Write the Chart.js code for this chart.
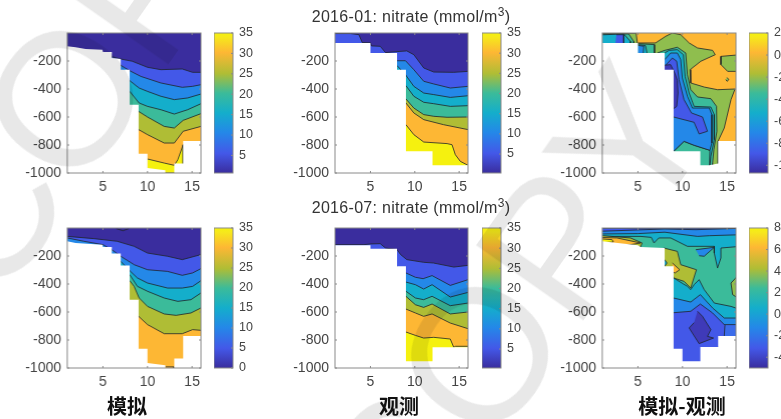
<!DOCTYPE html>
<html><head><meta charset="utf-8">
<script src="https://cdn.jsdelivr.net/npm/chart.js@4"></script>
<style>
html,body{margin:0;padding:0;background:#fff;width:781px;height:419px;overflow:hidden}
#fig{position:relative;width:781px;height:419px;overflow:hidden;background:#fff;filter:blur(0.45px)}
#fig canvas{position:absolute}
.t{position:absolute;white-space:nowrap;font-family:"Liberation Sans",Arial,sans-serif;font-size:16px;letter-spacing:.3px;color:#333;transform:translateX(-50%)}
.t sup{font-size:12px;line-height:0;vertical-align:6px}
.c{position:absolute;white-space:nowrap;font-family:"Noto Sans CJK SC",sans-serif;font-weight:700;font-size:20px;color:#111;transform:translateX(-50%);line-height:24px}
.w{position:absolute;white-space:nowrap;font-family:"Liberation Sans",Arial,sans-serif;font-size:190px;letter-spacing:-2px;color:rgba(0,0,0,.09);mix-blend-mode:multiply;transform-origin:0 100%;transform:rotate(-55deg);pointer-events:none;line-height:190px}
</style></head><body><div id="fig"></div>
<script>
// ---------- text ----------
const titleLabels = ['2016-01: nitrate (mmol/m', '2016-07: nitrate (mmol/m'];
const columnLabels = ['模拟', '观测', '模拟-观测'];
const watermarkText = 'COPY';
const xTicks = [5, 10, 15];
const yTicks = [-1000, -800, -600, -400, -200];
const concTicks = [5, 10, 15, 20, 25, 30, 35];
const concTicksZero = [0, 5, 10, 15, 20, 25, 30, 35];
const janDiffTicks = [-10, -8, -6, -4, -2, 0, 2];
const julDiffTicks = [-4, -2, 0, 2, 4, 6, 8];

// ---------- band colours ----------
const DARK='#3A2D9E', BLUE='#4358E8', AZURE='#2488E8', TEAL='#14AECB', SEA='#3BBB9A', OLIVE='#AFBD35', ORANGE='#FDB734', YELLOW='#F5F10F';
const LEAF='#8FBE4E', DEEP='#3F3AB8', MIDBLUE='#3B6CEA';
const parulaStops = [[0,DARK],[.14,BLUE],[.29,AZURE],[.43,TEAL],[.57,SEA],[.71,OLIVE],[.86,ORANGE],[.97,'#F6E81C'],[1,YELLOW]];

// ---------- 2016-01 model ----------
const janModelFloor=[[1,-95],[1.94,-102],[3.06,-114],[4.94,-119],[5,-136],[6,-136],[6,-179],[7,-186],[7,-262],[8,-262],[8,-512],[9,-512],[9,-862],[10,-862],[10,-964],[12,-981],[12,-1000],[13,-1000],[13,-933],[14,-933],[14,-771],[16,-771]];
const janModel5=[[6,-170],[7,-186],[8.3,-202],[10,-245],[11.5,-262],[13.9,-257],[15.06,-281],[16,-281]];
const janModel10=[[7,-231],[8,-269],[9.25,-310],[11.5,-357],[13.9,-388],[15.06,-381],[16,-369]];
const janModel15=[[8,-340],[9.06,-393],[10,-417],[11.5,-452],[13,-476],[14.5,-464],[16,-436]];
const janModel20=[[8,-417],[9.06,-500],[10,-524],[11.5,-548],[13,-579],[14.5,-548],[16,-505]];
const janModel25=[[9,-560],[10,-600],[11.87,-667],[13,-679],[14,-624],[16,-576]];
const janModel30=[[9,-690],[10,-726],[11.87,-786],[13,-786],[14,-702],[16,-667]];
const janModel35=[[10,-900],[11.87,-929],[13,-945],[13.4,-905],[14,-798],[14,-1000],[10,-1000]];

// ---------- 2016-01 observation ----------
const janObsFloor=[[1,-71],[5,-71],[5,-143],[8,-143],[8,-262],[9,-262],[9,-845],[12,-845],[12,-945],[16,-945]];
const janObs5=[[1,-4],[2.76,-4],[3.7,-12],[4.07,-68],[5,-70],[5.1,-92],[6.1,-95],[6.7,-140],[8,-133],[9.1,-128],[9.89,-155],[11.01,-250],[12.14,-279],[14.39,-281],[16,-274]];
const janObs10=[[8,-198],[8.95,-198],[9.89,-262],[11.01,-345],[12.14,-364],[14.01,-393],[16,-381]];
const janObs15=[[8,-233],[8.95,-298],[9.89,-381],[11.01,-429],[12.14,-440],[14.01,-460],[16,-448]];
const janObs20=[[9,-376],[9.89,-452],[11.01,-495],[12.14,-505],[14.01,-524],[16,-519]];
const janObs25=[[9,-471],[9.89,-536],[11.01,-583],[12.14,-595],[13.64,-602],[16,-600]];
const janObs30=[[9,-500],[9.89,-571],[11.01,-619],[13.25,-655],[16,-690]];
const janObs35=[[9,-655],[9.89,-726],[11.01,-779],[13.64,-790],[14.2,-798],[14.57,-869],[15.14,-917],[16,-945]];

// ---------- 2016-01 difference ----------
const janDiffFloor=[[1,-71],[5,-71],[5,-143],[8,-143],[8,-262],[9,-262],[9,-845],[12,-845],[12,-945],[13,-945],[14,-933],[14,-771],[16,-771]];
const janDiffLeaf=[[5,-71],[6.98,-71],[8.1,-24],[8.86,0],[9.8,-12],[10.74,-71],[11.68,-107],[13.37,-124],[13.67,-155],[12.05,-202],[10.85,-262],[10.92,-357],[12.43,-386],[13.93,-405],[15.89,-400],[15.44,-476],[14.68,-679],[14,-771],[14,-1000],[3,-1000],[3,-80]];
const janDiffIsland=[[16.5,-155],[14.31,-167],[14.31,-226],[15.06,-274],[16.5,-274]];
const janDiffLens=[[15,-318],[15.2,-333],[15,-345],[14.85,-333]];
const janDiffTop1=[[0.5,-2],[4.8,-2],[4.95,-80],[0.5,-80]];
const janDiffTop2=[[0.5,-7],[3.97,-7],[4.53,-60],[4.53,-80],[0.5,-80]];
const janDiffTop3=[[0.5,-14],[3.41,-7],[4.16,-60],[4.16,-80],[0.5,-80]];
const janDiffTop4=[[2.58,-12],[3.41,-12],[3.41,-80],[2.47,-80]];
const janDiffPatch1=[[5,-76],[6.86,-83],[6.86,-150],[5,-150]];
const janDiffPatch2=[[5,-83],[5.85,-90],[6.04,-150],[5,-150]];
const janDiffPatch3=[[5,-88],[5.66,-95],[5.59,-150],[5,-150]];
const janDiffSea=[[7.17,-143],[8,-124],[9.42,-102],[10.36,-143],[10.55,-298],[10.92,-405],[11.68,-457],[13.18,-469],[13.82,-524],[13.86,-702],[13.52,-833],[13.37,-933],[13.37,-1000],[7.17,-1000]];
const janDiffTeal=[[8,-143],[8.48,-124],[9.42,-119],[10.1,-155],[10.29,-310],[10.74,-429],[11.3,-524],[13.18,-529],[13.56,-583],[13.56,-762],[13.18,-881],[13,-1000],[7.5,-1000],[7.5,-143]];
const janDiffWedge=[[9,-845],[10.17,-774],[11.3,-802],[13.07,-838],[13,-1000],[9,-1000]];
const janDiffAzure=[[8,-190],[8.67,-143],[9.42,-143],[9.8,-190],[9.98,-321],[10.55,-452],[11.11,-536],[13,-536],[13.29,-583],[13.29,-786],[13.07,-838],[11.3,-802],[10.17,-774],[9,-845],[7.5,-845],[7.5,-190]];
const janDiffBlue=[[8,-238],[8.86,-179],[9.35,-202],[9.61,-333],[10.17,-476],[11,-571],[12.24,-600],[12.8,-702],[11.86,-721],[11.3,-638],[9,-600],[7.5,-600],[7.5,-238]];
const janDiffDeep=[[7.9,-231],[8.67,-226],[9.16,-290],[9.42,-340],[9.5,-429],[9.35,-524],[9,-540],[7.9,-540]];

// ---------- 2016-07 model ----------
const julModelFloor=[[1,-95],[1.94,-107],[4.94,-119],[5,-136],[6,-136],[6,-183],[7,-183],[7,-267],[8,-267],[8,-512],[9,-512],[9,-862],[10,-862],[10,-964],[12,-981],[12,-1000],[13,-1000],[13,-933],[14,-933],[14,-771],[16,-771]];
const julModel5=[[1,-60],[4,-76],[6.6,-95],[8.5,-131],[10,-179],[12.25,-202],[13.9,-226],[16,-190]];
const julModel10=[[1,-71],[2.87,-95],[5,-119],[6,-155],[7,-202],[8.5,-262],[10,-298],[12.25,-310],[13.9,-338],[15.06,-321],[16,-290]];
const julModel15=[[7,-238],[8,-305],[8.87,-357],[10,-393],[12.25,-429],[13.9,-429],[15.06,-417],[16,-376]];
const julModel20=[[8,-333],[8.87,-417],[10,-452],[11.87,-500],[13.4,-524],[14.87,-512],[16,-464]];
const julModel25=[[8,-376],[8.5,-417],[9.06,-500],[10,-560],[11.87,-614],[13.2,-624],[14.87,-607],[16,-571]];
const julModel30=[[9,-631],[10,-690],[11.87,-755],[13.9,-755],[15.06,-726],[16,-731]];
const julModelLens=[[6.5,-5],[7.25,-19],[7.9,-5]];
const julModelDeep=[[12,-992],[12.95,-992],[12.95,-1010],[12,-1010]];

// ---------- 2016-07 observation ----------
const julObsFloor=[[1,-124],[5,-124],[5,-148],[8,-148],[8,-274],[9,-274],[9,-952],[12,-952],[12,-852],[16,-852]];
const julObs5=[[1,-119],[4.26,-119],[5,-114],[6.1,-112],[6.7,-143],[8,-155],[8.4,-190],[9.1,-226],[11,-245],[12.1,-250],[14.4,-279],[16,-267]];
const julObs10=[[8,-274],[9,-321],[10.07,-352],[10.94,-362],[11.95,-340],[14,-410],[16,-369]];
const julObs15=[[9,-386],[10.07,-405],[11,-436],[11.95,-405],[14,-493],[16,-460]];
const julObs20=[[9,-452],[10.07,-500],[11,-512],[11.95,-488],[14,-555],[16,-536]];
const julObs25=[[9,-488],[10.07,-548],[11,-567],[11.95,-543],[14,-614],[16,-600]];
const julObs30=[[9,-579],[10.07,-607],[11,-631],[11.95,-614],[14,-679],[16,-719]];
const julObs35=[[9,-743],[10.07,-767],[11,-786],[12.14,-781],[14,-793],[14.39,-852],[14.6,-845],[16,-845]];

// ---------- 2016-07 difference ----------
const julDiffFloor=[[1,-95],[5,-124],[5.29,-136],[8,-143],[8,-274],[9,-274],[9,-862],[10,-862],[10,-952],[12,-952],[12,-850],[14,-850],[14,-771],[16,-771]];
const julDiffTealTop=[[0.5,-60],[5.29,-60],[6.5,-67],[6.8,-107],[7.35,-71],[8.67,-71],[10.55,-131],[13.56,-131],[13.56,-179],[13.93,-286],[14.31,-214],[14.31,-143],[16.5,-131],[16.5,0],[0.5,0]];
const julDiffAzureTop=[[0.5,-43],[5,-40],[8,-30],[11.68,-60],[13,-55],[16.5,-48],[16.5,0],[0.5,0]];
const julDiffBlueTop=[[0.5,-24],[8,-7],[11.49,-12],[16.5,-2],[16.5,-1],[0.5,-1]];
const julDiffLensA=[[11.49,-155],[13.56,-138],[12.43,-202],[11.86,-198]];
const julDiffLeft1=[[0.5,-52],[4.16,-71],[5.47,-107],[5.29,-136],[0.5,-136]];
const julDiffLeft2=[[0.5,-67],[2.65,-71],[5.29,-107],[4.16,-119],[0.5,-119]];
const julDiffLeft3=[[0.5,-76],[2.09,-83],[2.25,-100],[0.5,-107]];
const julDiffOlive=[[7.9,-143],[9.42,-167],[9.8,-262],[11.56,-298],[10.92,-429],[10.17,-381],[9,-357],[8.8,-300],[7.9,-274]];
const julDiffOrange=[[8.86,-250],[9.68,-298],[9.16,-321],[8.9,-314]];
const julDiffNick=[[8,-226],[8.26,-250],[8,-274],[7.8,-250]];
const julDiffRight=[[16.5,-321],[15.44,-393],[15.62,-476],[16.5,-512]];
const julDiffTealLow=[[8.5,-350],[9,-357],[10.55,-417],[10.92,-440],[11.3,-405],[11.86,-369],[12.43,-440],[13.56,-536],[15.44,-560],[16.5,-583],[16.5,-1000],[8.5,-1000]];
const julDiffAzureLow=[[8.5,-500],[9,-500],[10.92,-529],[12,-476],[13.37,-571],[14.68,-643],[16.5,-643],[16.5,-1000],[8.5,-1000]];
const julDiffMid=[[14.68,-690],[16.5,-690],[16.5,-1000],[14.68,-1000]];
const julDiffBlueLow=[[8.5,-605],[9,-605],[10.92,-595],[12,-543],[13.37,-607],[14.76,-695],[14.68,-774],[14,-857],[14,-1000],[8.5,-1000]];
const julDiffDeep=[[11.68,-595],[12.24,-631],[13.18,-726],[12.8,-774],[13.48,-786],[11.86,-826],[10.74,-714],[11.3,-676]];

// ---------- panel recipes: [points, colour, kind]; e = fill to top, s = closed region ----------
const panels=[
 {col:0,row:0,floor:janModelFloor,base:ORANGE,layers:[[janModel35,YELLOW,'s'],[janModel30,OLIVE,'e'],[janModel25,SEA,'e'],[janModel20,TEAL,'e'],[janModel15,AZURE,'e'],[janModel10,BLUE,'e'],[janModel5,DARK,'e']]},
 {col:1,row:0,floor:janObsFloor,base:YELLOW,layers:[[janObs35,ORANGE,'e'],[janObs30,OLIVE,'e'],[janObs25,SEA,'e'],[janObs20,TEAL,'e'],[janObs15,AZURE,'e'],[janObs10,BLUE,'e'],[janObs5,DARK,'e']]},
 {col:2,row:0,floor:janDiffFloor,base:ORANGE,layers:[[janDiffLeaf,LEAF,'s'],[janDiffIsland,LEAF,'s'],[janDiffLens,LEAF,'s'],[janDiffTop1,LEAF,'s'],[janDiffTop2,SEA,'s'],[janDiffTop3,TEAL,'s'],[janDiffTop4,BLUE,'s'],[janDiffPatch1,SEA,'s'],[janDiffPatch2,TEAL,'s'],[janDiffPatch3,AZURE,'s'],[janDiffSea,SEA,'s'],[janDiffTeal,TEAL,'s'],[janDiffWedge,SEA,'s'],[janDiffAzure,AZURE,'s'],[janDiffBlue,BLUE,'s'],[janDiffDeep,DEEP,'s']]},
 {col:0,row:1,floor:julModelFloor,base:ORANGE,layers:[[julModelDeep,ORANGE,'s'],[julModel30,OLIVE,'e'],[julModel25,SEA,'e'],[julModel20,TEAL,'e'],[julModel15,AZURE,'e'],[julModel10,BLUE,'e'],[julModel5,DARK,'e'],[julModelLens,DARK,'s']]},
 {col:1,row:1,floor:julObsFloor,base:YELLOW,layers:[[julObs35,ORANGE,'e'],[julObs30,OLIVE,'e'],[julObs25,SEA,'e'],[julObs20,TEAL,'e'],[julObs15,AZURE,'e'],[julObs10,BLUE,'e'],[julObs5,DARK,'e']]},
 {col:2,row:1,floor:julDiffFloor,base:SEA,layers:[[julDiffOlive,OLIVE,'s'],[julDiffOrange,ORANGE,'s'],[julDiffNick,TEAL,'s'],[julDiffRight,LEAF,'s'],[julDiffTealLow,TEAL,'s'],[julDiffAzureLow,AZURE,'s'],[julDiffMid,MIDBLUE,'s'],[julDiffBlueLow,BLUE,'s'],[julDiffDeep,DEEP,'s'],[julDiffTealTop,TEAL,'s'],[julDiffAzureTop,AZURE,'s'],[julDiffBlueTop,BLUE,'s'],[julDiffLensA,AZURE,'s'],[julDiffLeft1,OLIVE,'s'],[julDiffLeft2,ORANGE,'s'],[julDiffLeft3,YELLOW,'s']]}
];
const bars=[
 {col:0,row:0,min:0.7,max:35,ticks:concTicks},{col:1,row:0,min:0.3,max:35,ticks:concTicks},{col:2,row:0,min:-10.7,max:2,ticks:janDiffTicks},
 {col:0,row:1,min:0,max:35,ticks:concTicksZero},{col:1,row:1,min:0.3,max:35,ticks:concTicks},{col:2,row:1,min:-5,max:8,ticks:julDiffTicks}
];

// ---------- layout ----------
const axL=[67,334.5,602], barL=[214,482,749], rowT=[33,228], AW=133.5, AH=140, BW=19;
const GAP_L=48, GAP_B=26, PAD=8, GAP_R=34;
const AXC='#8a8a8a', TXT='#444', FONT='"Liberation Sans",Arial,sans-serif';
const fig=document.getElementById('fig');

const boxTicks={id:'boxTicks',afterDatasetsDraw(ch){
  const {ctx,chartArea:a,scales:{x,y}}=ch;
  ctx.save();ctx.strokeStyle=AXC;ctx.lineWidth=1;
  ctx.strokeRect(a.left,a.top,a.right-a.left,a.bottom-a.top);
  ctx.beginPath();
  const full=x.options.display!==false;
  if(full) x.ticks.forEach(t=>{const p=x.getPixelForValue(t.value);ctx.moveTo(p,a.bottom);ctx.lineTo(p,a.bottom-2);ctx.moveTo(p,a.top);ctx.lineTo(p,a.top+2);});
  y.ticks.forEach(t=>{const p=y.getPixelForValue(t.value);
    if(full){ctx.moveTo(a.left,p);ctx.lineTo(a.left+2,p);}
    ctx.moveTo(a.right,p);ctx.lineTo(a.right-2,p);});
  ctx.stroke();ctx.restore();
}};
function noPad(s){s.paddingTop=0;s.paddingBottom=0;s.paddingLeft=0;s.paddingRight=0;}
function mkCanvas(l,t,w,h){const c=document.createElement('canvas');c.style.left=l+'px';c.style.top=t+'px';c.style.width=w+'px';c.style.height=h+'px';c.width=w;c.height=h;fig.appendChild(c);return c;}
const toXY=p=>p.map(([x,y])=>({x,y}));
const ds=(pts,color,fill,bw)=>({data:toXY(pts),showLine:true,pointRadius:0,borderColor:'#20252a',borderWidth:bw,backgroundColor:color,fill,tension:0});
// a contour that starts inside the land is carried straight back under the white land mask
const fromLeft=pts=>pts[0][0]>1?[[1,pts[0][1]],...pts]:pts;

panels.forEach(P=>{
  const list=[ds([[1,-1000],[16,-1000]],P.base,'end',0)];
  P.layers.forEach(([pts,c,k])=>list.push(k==='e'?ds(fromLeft(pts),c,'end',0.8):ds(pts,c,'shape',0.8)));
  list.push(ds(P.floor,'#ffffff','start',0));
  list.reverse();
  const W=GAP_L+AW+PAD, H=PAD+AH+GAP_B;
  new Chart(mkCanvas(axL[P.col]-GAP_L,rowT[P.row]-PAD,W,H),{type:'scatter',data:{datasets:list},plugins:[boxTicks],options:{
    responsive:false,animation:false,devicePixelRatio:1,events:[],
    layout:{padding:{top:PAD,right:PAD,left:0,bottom:0}},
    plugins:{legend:{display:false},tooltip:{enabled:false}},
    scales:{
      x:{type:'linear',min:1,max:16,afterBuildTicks:s=>{s.ticks=xTicks.map(value=>({value}));},afterFit:s=>{s.height=GAP_B;noPad(s);},
         grid:{display:false,drawTicks:false},border:{display:false},ticks:{padding:6,color:TXT,maxRotation:0,autoSkip:false,font:{family:FONT,size:14},callback:v=>String(v)}},
      y:{type:'linear',min:-1000,max:0,afterBuildTicks:s=>{s.ticks=yTicks.map(value=>({value}));},afterFit:s=>{s.width=GAP_L;noPad(s);},
         grid:{display:false,drawTicks:false},border:{display:false},ticks:{padding:6,color:TXT,autoSkip:false,font:{family:FONT,size:14},callback:v=>String(v)}}
    }}});
});

bars.forEach(B=>{
  const W=BW+GAP_R, H=PAD+AH+PAD;
  new Chart(mkCanvas(barL[B.col],rowT[B.row]-PAD,W,H),{type:'bar',plugins:[boxTicks],data:{labels:['colour'],datasets:[{data:[[B.min,B.max]],barPercentage:1,categoryPercentage:1,
    backgroundColor(ctx){const a=ctx.chart.chartArea;if(!a)return DARK;const g=ctx.chart.ctx.createLinearGradient(0,a.bottom,0,a.top);parulaStops.forEach(([o,c])=>g.addColorStop(o,c));return g;}}]},
   options:{responsive:false,animation:false,devicePixelRatio:1,events:[],
    layout:{padding:{top:PAD,bottom:PAD,left:0,right:0}},
    plugins:{legend:{display:false},tooltip:{enabled:false}},
    scales:{
      x:{display:false},
      y:{position:'right',min:B.min,max:B.max,afterBuildTicks:s=>{s.ticks=B.ticks.map(value=>({value}));},afterFit:s=>{s.width=GAP_R;noPad(s);},
         grid:{display:false,drawTicks:false},border:{display:false},ticks:{padding:6,color:TXT,autoSkip:false,font:{family:FONT,size:12.5},callback:v=>String(v)}}
    }}});
});

// ---------- titles ----------
[[411,8],[411,199]].forEach(([x,y],i)=>{const d=document.createElement('div');d.className='t';d.style.left=x+'px';d.style.top=y+'px';d.innerHTML=titleLabels[i]+'<sup>3</sup>)';fig.appendChild(d);});
columnLabels.forEach((s,i)=>{const d=document.createElement('div');d.className='c';d.style.left=[127,399,682][i]+'px';d.style.top='394px';d.textContent=s;fig.appendChild(d);});
// ---------- watermark ----------
[[22,134],[437,390]].forEach(([x,y])=>{const d=document.createElement('div');d.className='w';d.style.left=x+'px';d.style.top=y+'px';d.textContent=watermarkText;fig.appendChild(d);});
</script></body></html>
